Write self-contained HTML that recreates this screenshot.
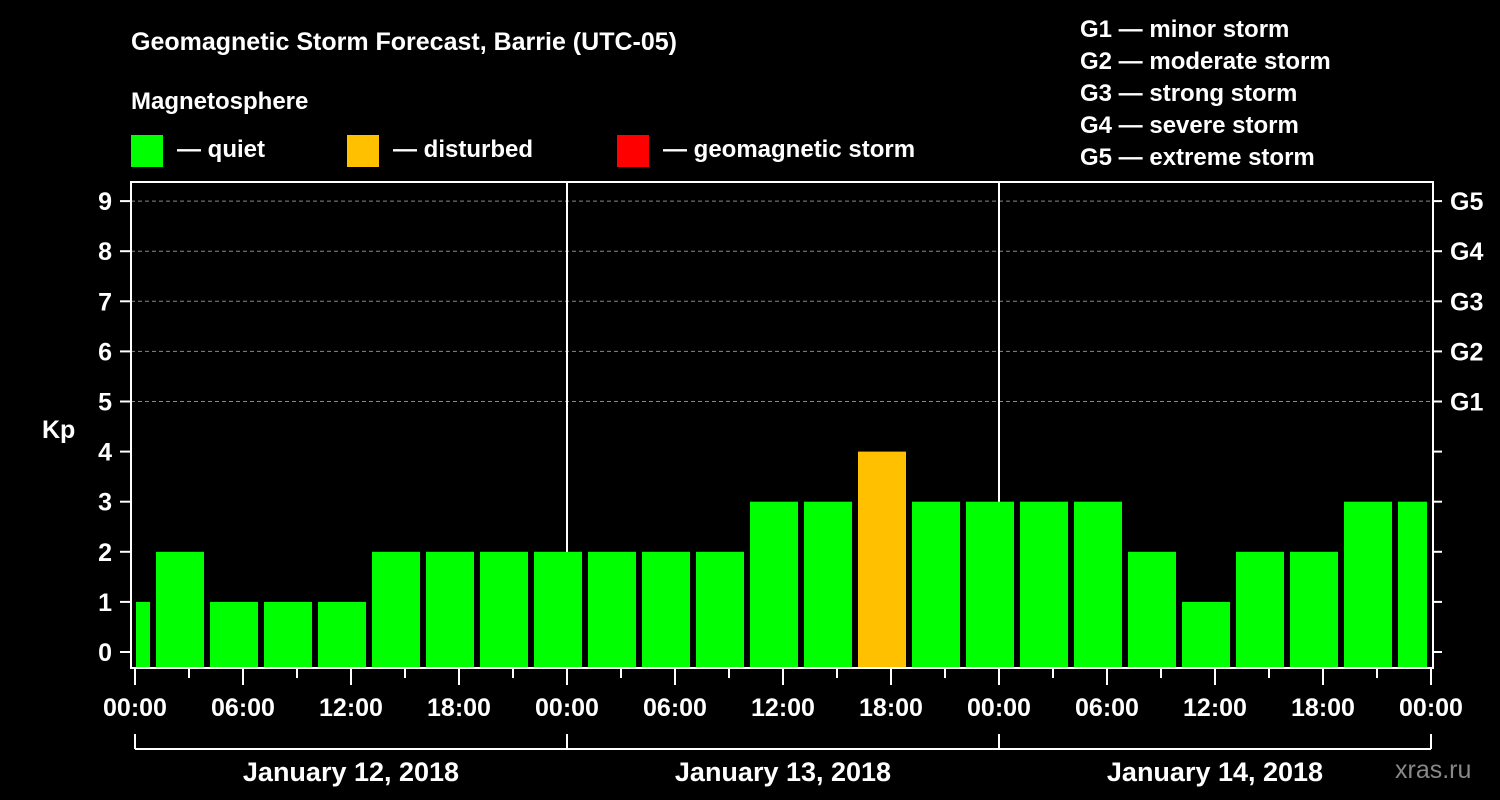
<!DOCTYPE html>
<html><head><meta charset="utf-8"><style>
body{margin:0;background:#000;}
svg{display:block;font-family:"Liberation Sans",Arial,sans-serif;font-weight:bold;}
</style></head><body>
<svg id="chart" width="1500" height="800" viewBox="0 0 1500 800">
<rect width="1500" height="800" fill="#000"/>
<text x="131" y="50" fill="#fff" font-size="25">Geomagnetic Storm Forecast, Barrie (UTC-05)</text>
<text x="131" y="109" fill="#fff" font-size="24">Magnetosphere</text>
<g><rect x="131" y="135" width="32" height="32" fill="#00ff00"/><text x="177" y="157" fill="#fff" font-size="24">— quiet</text></g>
<g><rect x="347" y="135" width="32" height="32" fill="#ffc000"/><text x="393" y="157" fill="#fff" font-size="24">— disturbed</text></g>
<g><rect x="617" y="135" width="32" height="32" fill="#ff0000"/><text x="663" y="157" fill="#fff" font-size="24">— geomagnetic storm</text></g>
<g fill="#fff" font-size="24">
<text x="1080" y="37">G1 — minor storm</text><text x="1080" y="69">G2 — moderate storm</text><text x="1080" y="101">G3 — strong storm</text><text x="1080" y="133">G4 — severe storm</text><text x="1080" y="165">G5 — extreme storm</text></g>
<text x="42" y="438" fill="#fff" font-size="25">Kp</text>
<text x="1395" y="778" fill="#888" font-size="25" font-weight="normal">xras.ru</text>
<g id="grid"></g><g id="bars"></g><g id="axes"></g>
</svg>
<script>
const kpValues=[1,2,1,1,1,2,2,2,2,2,2,2,3,3,4,3,3,3,3,2,1,2,2,3,3];
const yTicks=[0,1,2,3,4,5,6,7,8,9];
const gLabels=["G1","G2","G3","G4","G5"];
const timeLabels=["00:00","06:00","12:00","18:00","00:00","06:00","12:00","18:00","00:00","06:00","12:00","18:00","00:00"];
const dayLabels=["January 12, 2018","January 13, 2018","January 14, 2018"];
const NS="http://www.w3.org/2000/svg";
const L=131,R=1433,T=182,B=668,X0=135,PXH=18;
const y=v=>652-v*50.1;
const xh=h=>X0+h*PXH;
function mk(tag,a,p,txt){const e=document.createElementNS(NS,tag);for(const k in a)e.setAttribute(k,a[k]);if(txt!==undefined)e.textContent=txt;document.getElementById(p).appendChild(e);return e;}
yTicks.forEach(v=>{if(v>=5){const g=mk('line',{x1:L,x2:R,y1:y(v),y2:y(v),stroke:'#888','stroke-dasharray':'4,3','stroke-width':1},'grid');}});
[24,48].forEach(h=>{const d=mk('line',{x1:xh(h),x2:xh(h),y1:T,y2:B,stroke:'#fff','stroke-width':2},'grid');});
kpValues.forEach((v,i)=>{let s=-2+i*3,e=s+3;let x1=xh(s)+3,x2=xh(e)-3;x1=Math.max(x1,L+5);x2=Math.min(x2,R-6);
const col=v>=5?'#ff0000':(v>=4?'#ffc000':'#00ff00');
const r=mk('rect',{x:x1,y:y(v),width:x2-x1,height:B-y(v),fill:col},'bars');
});
const f=mk('rect',{x:L,y:T,width:R-L,height:B-T,fill:'none',stroke:'#fff','stroke-width':2},'axes');
yTicks.forEach(v=>{mk('line',{x1:120,x2:L,y1:y(v),y2:y(v),stroke:'#fff','stroke-width':2},'axes');
const t=mk('text',{x:112,y:y(v)+9,fill:'#fff','font-size':25,'text-anchor':'end'},'axes',v);
mk('line',{x1:R,x2:1442,y1:y(v),y2:y(v),stroke:'#fff','stroke-width':2},'axes');});
gLabels.forEach((g,i)=>{const t=mk('text',{x:1450,y:y(5+i)+9,fill:'#fff','font-size':25},'axes',g);});
for(let h=0;h<=72;h+=3){const major=h%6===0;mk('line',{x1:xh(h),x2:xh(h),y1:B,y2:major?685:678,stroke:'#fff','stroke-width':2},'axes');}
timeLabels.forEach((l,i)=>{const t=mk('text',{x:xh(i*6),y:716,fill:'#fff','font-size':25,'text-anchor':'middle'},'axes',l);});
mk('line',{x1:xh(0),x2:xh(72),y1:749,y2:749,stroke:'#fff','stroke-width':2},'axes');
[0,24,48,72].forEach(h=>mk('line',{x1:xh(h),x2:xh(h),y1:734,y2:749,stroke:'#fff','stroke-width':2},'axes'));
dayLabels.forEach((d,i)=>{const t=mk('text',{x:xh(i*24+12),y:781,fill:'#fff','font-size':27,'text-anchor':'middle'},'axes',d);});
</script>
</body></html>
